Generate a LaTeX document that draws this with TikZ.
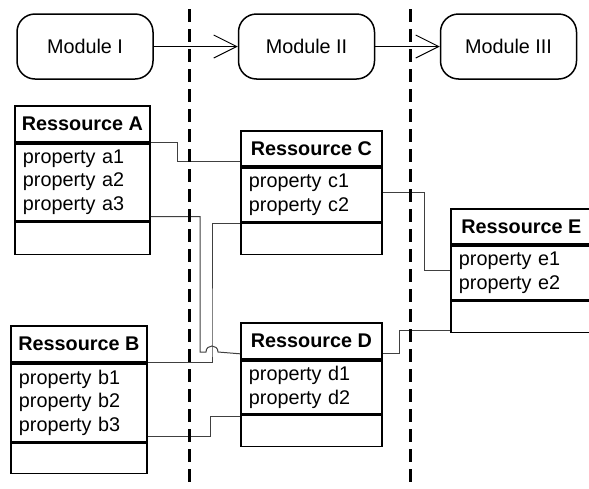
\documentclass[tikz,border=0pt]{standalone}
\usepackage{fontspec}
\setmainfont{Liberation Sans}
\usetikzlibrary{positioning,arrows.meta}

\begin{document}
\begin{tikzpicture}[x=1pt,y=-1pt,
	font=\fontsize{19.8pt}{23.5pt}\selectfont,
	module/.style={draw, line width=1.5pt, rounded corners=18pt, minimum width=136pt, minimum height=65pt},
	head/.style={draw, line width=1.8pt, minimum width=#1, minimum height=35pt, inner sep=0pt, font=\fontsize{19.8pt}{23.5pt}\selectfont\bfseries},
	props/.style={draw, line width=1.8pt, text width=#1, inner xsep=8pt, inner ysep=0pt, align=left},
	empty/.style={draw, line width=1.8pt, minimum width=#1, inner sep=0pt},
	link/.style={draw=black!75, line width=1pt},
	flow/.style={line width=1pt, -{Straight Barb[length=23pt,width=23pt]}},
	border/.style={line width=3pt, dash pattern=on 13pt off 7pt}]
	\useasboundingbox (0,0) rectangle (589,488);
	\clip (0,0) rectangle (589,488);
	
	% Module
	\node[module] (m1) at (85,46.5) {Module I};
	\node[module] (m2) at (306.5,46.5) {Module II};
	\node[module] (m3) at (508.5,46.5) {Module III};
	\draw[flow] (m1) -- (m2);
	\draw[flow] (m2) -- (m3);
	
	% Ressource A
	\node[head=135pt, anchor=north west, minimum height=36pt] (Ahead) at (14,105) {Ressource A};
	\node[props=119pt, minimum height=77pt, below=0pt of Ahead] (Aprops) {property a1\\property a2\\property a3};
	\node[empty=135pt, minimum height=32pt, below=0pt of Aprops] (Aempty) {};
	
	% Ressource B
	\node[head=136pt, anchor=north west, minimum height=36pt] (Bhead) at (10,325) {Ressource B};
	\node[props=120pt, minimum height=78pt, below=0pt of Bhead] (Bprops) {property b1\\property b2\\property b3};
	\node[empty=136pt, minimum height=30pt, below=0pt of Bprops] (Bempty) {};
	
	% Ressource C
	\node[head=141pt, anchor=north west] (Chead) at (240,130) {Ressource C};
	\node[props=125pt, minimum height=54pt, below=0pt of Chead] (Cprops) {property c1\\property c2};
	\node[empty=141pt, minimum height=31pt, below=0pt of Cprops] (Cempty) {};
	
	% Ressource D
	\node[head=141pt, anchor=north west, minimum height=36pt] (Dhead) at (240,322) {Ressource D};
	\node[props=125pt, minimum height=53pt, below=0pt of Dhead] (Dprops) {property d1\\property d2};
	\node[empty=141pt, minimum height=31pt, below=0pt of Dprops] (Dempty) {};
	
	% Ressource E
	\node[head=141pt, anchor=north west] (Ehead) at (450,208) {Ressource E};
	\node[props=125pt, minimum height=54pt, below=0pt of Ehead] (Eprops) {property e1\\property e2};
	\node[empty=141pt, minimum height=31pt, below=0pt of Eprops] (Eempty) {};
	
	% Verbindungen
	\coordinate (jmp) at (212,352);
	\draw[link] (Ahead.south east) -- ++(27,0) |- ([yshift=5pt]Chead.south west);
	\draw[link] ([yshift=5pt]Aprops.south east) -| ([xshift=-12pt]jmp) -- ([xshift=-6pt]jmp)
		.. controls ([xshift=-6pt,yshift=8pt]jmp) and ([xshift=6pt,yshift=8pt]jmp) .. ([xshift=6pt]jmp)
		-- ([yshift=6pt]Dhead.south west);
	\draw[link] ([yshift=-1pt]Cprops.south west) -| (jmp) |- (Bhead.south east);
	\draw[link] ([yshift=6pt]Bprops.south east) -- ++(63,0) |- ([yshift=-2pt]Dprops.south west);
	\draw[link] ([yshift=2pt]Cprops.east) -- ++(42,0) |- ([yshift=2pt]Eprops.west);
	\draw[link] ([yshift=6pt]Dhead.south east) -- ++(17,0) |- ([yshift=3pt]Eempty.south west);
	
	% Grenzen
	\coordinate (g1top) at (189,9);
	\coordinate (g1bot) at (189,490);
	\coordinate (g2top) at (410,9);
	\coordinate (g2bot) at (410,490);
	\draw[border] (g1top) -- (g1bot);
	\draw[border] (g2top) -- (g2bot);
\end{tikzpicture}
\end{document}
